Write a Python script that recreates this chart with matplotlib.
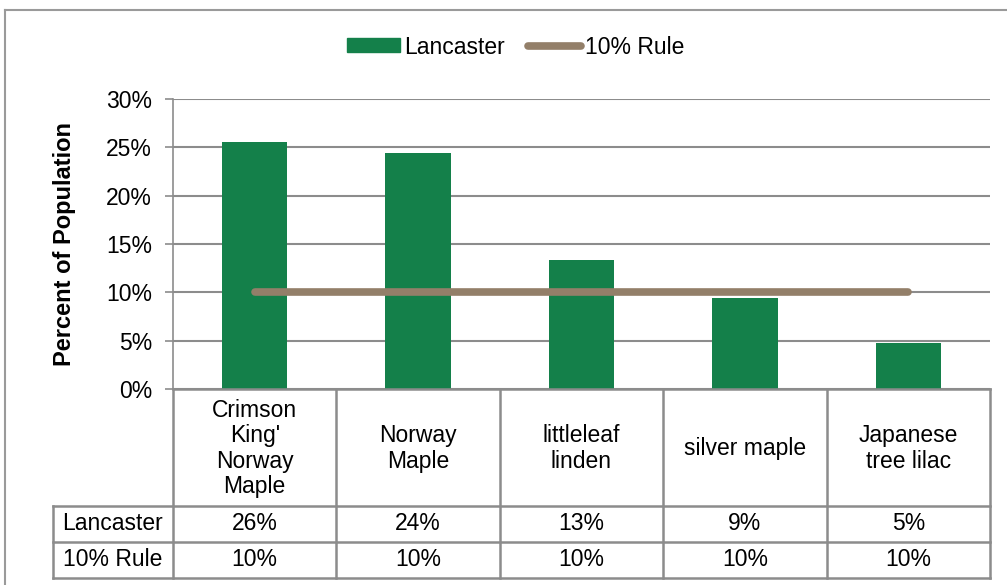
import matplotlib.pyplot as plt
from matplotlib.lines import Line2D
from matplotlib.patches import Patch

# data
species = ["Crimson\nKing'\nNorway\nMaple", "Norway\nMaple", "littleleaf\nlinden",
           "silver maple", "Japanese\ntree lilac"]
lancaster = [25.6, 24.4, 13.3, 9.4, 4.8]
rule = [10, 10, 10, 10, 10]
series_names = ["Lancaster", "10% Rule"]
yticks = [0, 5, 10, 15, 20, 25, 30]

green = '#14804a'
tan = '#937f69'
gridc = '#8c8c8c'
fs = 16.5

plt.rcParams['font.family'] = ['Liberation Sans', 'DejaVu Sans']

W, H = 1007, 585
fig = plt.figure(figsize=(W / 100, H / 100), dpi=100)

# plot area in pixels: x 173..990, y 99..389
px0, px1, py0, py1 = 173, 990, 99, 389
ax = fig.add_axes([px0 / W, 1 - py1 / H, (px1 - px0) / W, (py1 - py0) / H])

x = list(range(len(species)))
ax.bar(x, lancaster, width=0.4, color=green, zorder=3)
ax.plot(x, rule, color=tan, lw=5.5, solid_capstyle='round', zorder=4)

ax.set_xlim(-0.5, len(species) - 0.5)
ax.set_ylim(0, 30)
ax.set_yticks(yticks)
ax.set_yticklabels([f'{v}%' for v in yticks], fontsize=fs)
ax.set_xticks([])
ax.tick_params(axis='y', length=6, width=1.2, color=gridc, pad=9)
ax.yaxis.grid(True, color=gridc, lw=1.5, zorder=0)
for s in ['top', 'right', 'bottom']:
    ax.spines[s].set_visible(False)
ax.spines['left'].set_color(gridc)
ax.spines['left'].set_linewidth(1.2)
ax.set_ylabel('Percent of Population', fontsize=17, fontweight='bold', labelpad=22)

# data table under the axis, drawn in pixel coordinates
def fx(p):
    return p / W

def fy(p):
    return 1 - p / H

rows_y = [389, 506, 542, 578]
col_w = (px1 - px0) / len(species)
cols_x = [px0 + i * col_w for i in range(len(species) + 1)]
tab_left = 53
lk = dict(color=gridc, lw=1.8, transform=fig.transFigure, clip_on=False)

fig.add_artist(Line2D([fx(px0), fx(px1)], [fy(389), fy(389)], **lk))
for yy in rows_y[1:]:
    fig.add_artist(Line2D([fx(tab_left), fx(px1)], [fy(yy), fy(yy)], **lk))
for xx in cols_x:
    fig.add_artist(Line2D([fx(xx), fx(xx)], [fy(389), fy(578)], **lk))
fig.add_artist(Line2D([fx(tab_left), fx(tab_left)], [fy(506), fy(578)], **lk))

for i, name in enumerate(species):
    cx = fx(cols_x[i] + col_w / 2)
    fig.text(cx, fy((389 + 506) / 2 + 1), name, ha='center', va='center', fontsize=fs,
             linespacing=1.12)
    fig.text(cx, fy((506 + 542) / 2), f'{lancaster[i]:.0f}%', ha='center', va='center',
             fontsize=fs)
    fig.text(cx, fy((542 + 578) / 2), f'{rule[i]:.0f}%', ha='center', va='center',
             fontsize=fs)

for j, nm in enumerate(series_names):
    yc = (rows_y[j + 1] + rows_y[j + 2]) / 2
    fig.text(fx((tab_left + px0) / 2), fy(yc), nm, ha='center', va='center', fontsize=fs)

# chart frame (partly cut off in the reference)
fk = dict(color='#9a9a9a', lw=1.5, transform=fig.transFigure)
fig.add_artist(Line2D([fx(5), 1], [fy(10), fy(10)], **fk))
fig.add_artist(Line2D([fx(5), fx(5)], [fy(10), 0], **fk))

handles = [Patch(color=green, label=series_names[0]),
           Line2D([0], [0], color=tan, lw=5.5, solid_capstyle='round', label=series_names[1])]
fig.legend(handles=handles, loc='center', bbox_to_anchor=(fx(516), fy(47)), ncol=2,
           frameon=False, fontsize=fs, handlelength=2.3, handleheight=0.55,
           handletextpad=0.2, columnspacing=1.0)

fig.savefig('out.png', dpi=100)
